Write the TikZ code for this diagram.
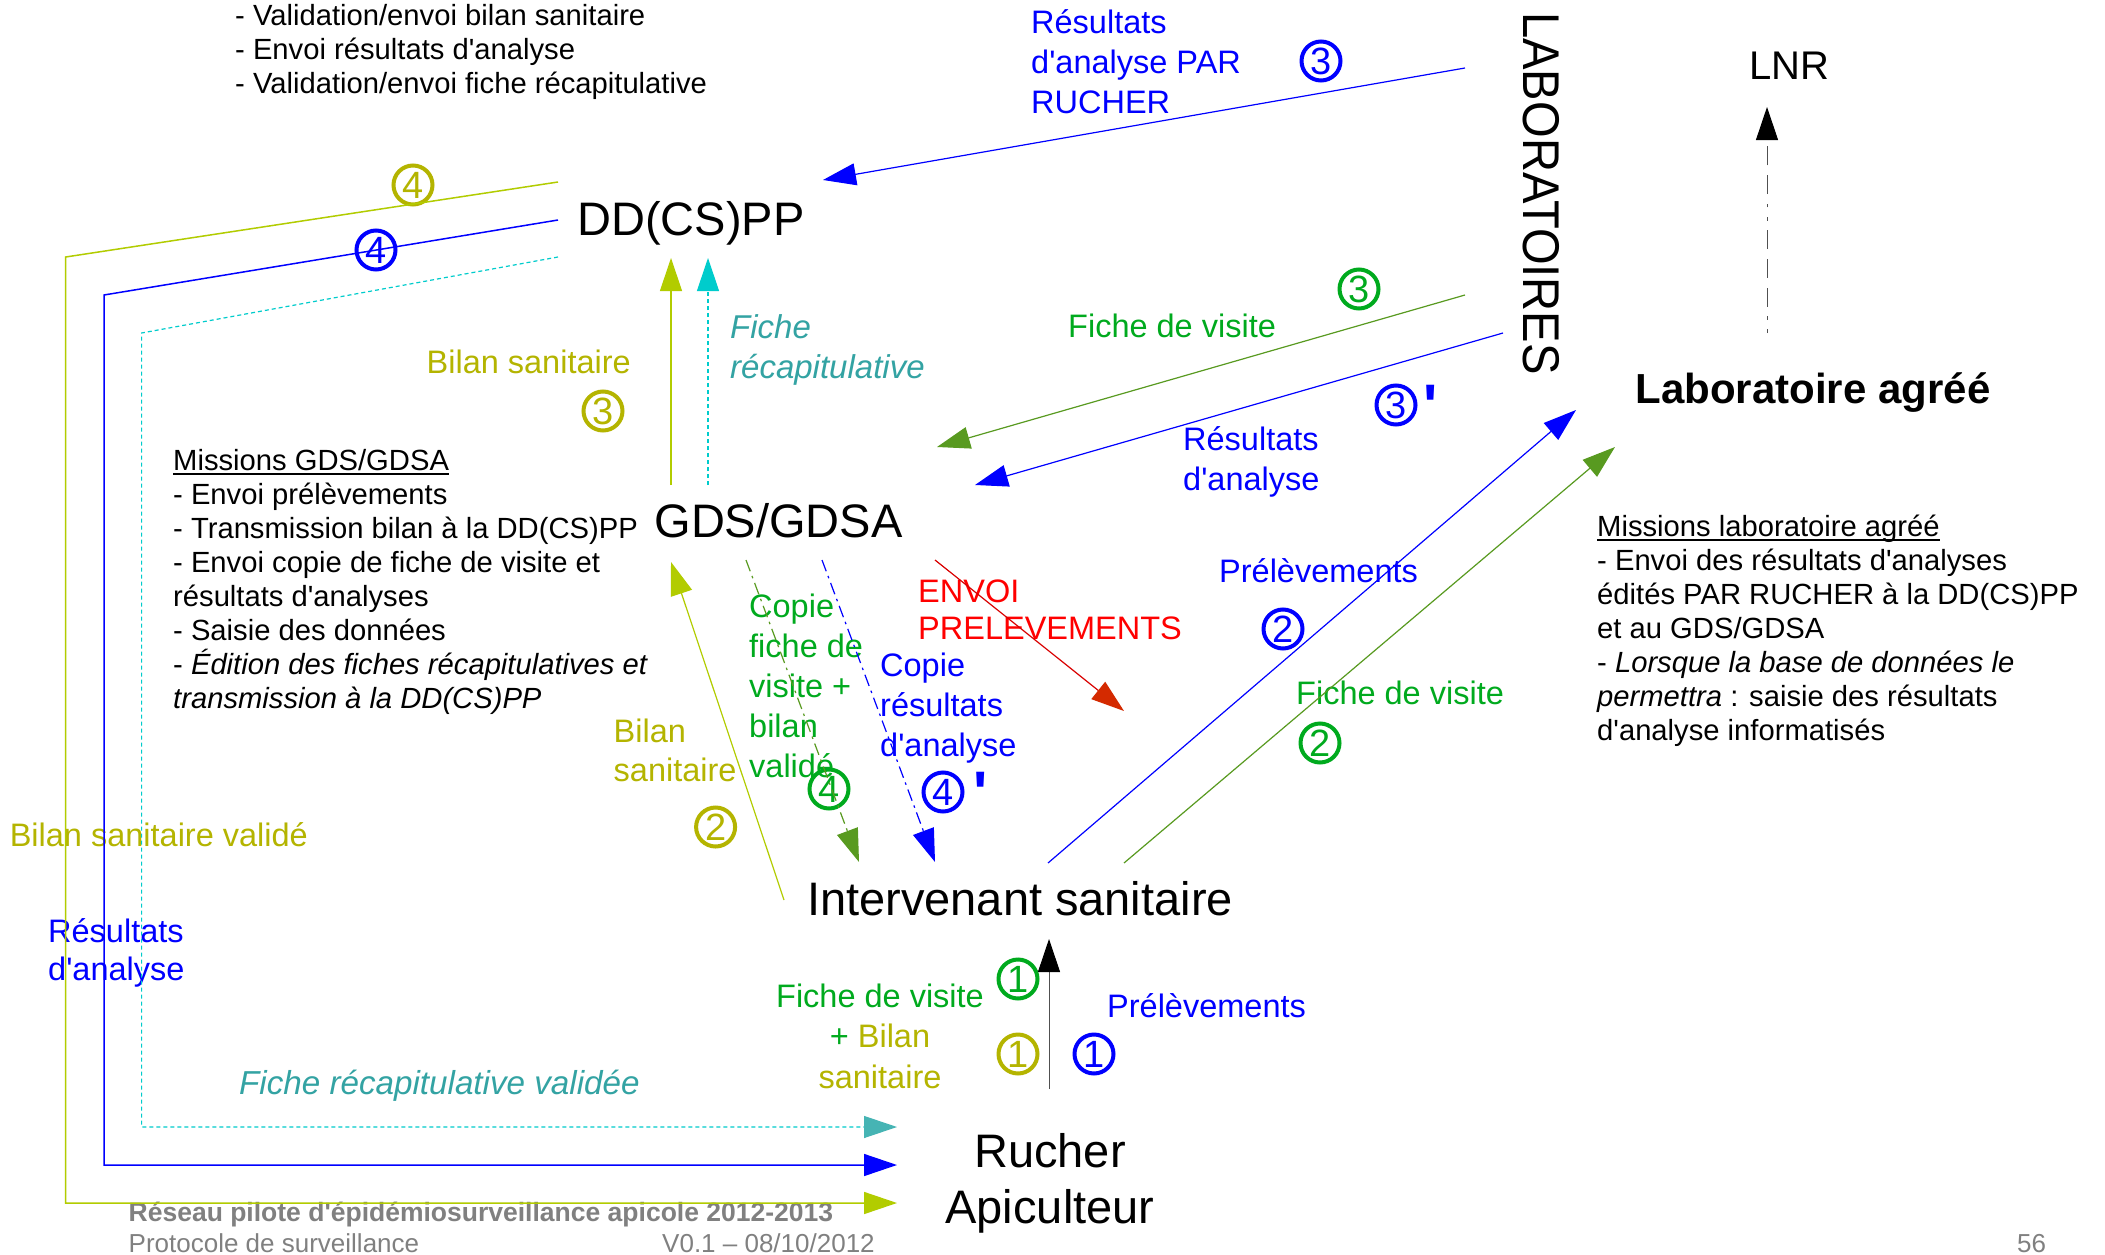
\documentclass[tikz,border=0pt]{standalone}
\usepackage{fontspec}
\usepackage{graphicx}
\setmainfont{Liberation Sans}[Ligatures=TeXOff]
\usetikzlibrary{arrows.meta}
\definecolor{cblue}{RGB}{0,0,255}
\definecolor{cgreen}{RGB}{0,170,30}
\definecolor{dgreen}{RGB}{88,154,32}
\definecolor{colive}{RGB}{180,180,0}
\definecolor{ygreen}{RGB}{178,204,0}
\definecolor{cteal}{RGB}{51,163,163}
\definecolor{ccyan}{RGB}{0,204,204}
\definecolor{cteal2}{RGB}{70,180,180}
\definecolor{cred}{RGB}{255,0,0}
\definecolor{dred}{RGB}{212,42,0}
\definecolor{cgray}{RGB}{128,128,128}
\definecolor{lgray}{RGB}{80,80,80}
\newcommand\lnsL[1]{\vtop{\lineskiplimit=-\maxdimen\let\\\cr\halign{##\hfil\cr#1\crcr}}}
\newcommand\lnsC[1]{\vtop{\lineskiplimit=-\maxdimen\let\\\cr\halign{\hfil##\hfil\cr#1\crcr}}}
\newcommand\myul[1]{\setbox0=\hbox{#1}\rlap{\rule[-5pt]{\wd0}{1.8pt}}\box0}
\tikzset{
  big/.style={inner sep=0pt, font=\fontsize{47}{56}\selectfont},
  lbl/.style={inner sep=0pt, font=\fontsize{32.5}{40}\selectfont},
  txt/.style={inner sep=0pt, font=\fontsize{29.2}{34}\selectfont},
  foot/.style={inner sep=0pt, text=cgray, font=\fontsize{26}{31}\selectfont},
  circ/.style={circle, draw=#1, text=#1, line width=4pt, minimum size=39pt, inner sep=0pt, font=\fontsize{38}{38}\selectfont},
  prime/.style={inner sep=0pt, text=#1, anchor=north, font=\bfseries\fontsize{60}{60}\selectfont},
  conn/.style={line width=1.2pt, -{Triangle[length=33pt,width=22pt,#1]}},
  conn/.default={},
  dashdot/.style={dash pattern=on 12pt off 5pt on 2.5pt off 5pt},
  shortdash/.style={dash pattern=on 4pt off 3pt},
  lnrdash/.style={dash pattern=on 3.7pt off 9.5pt on 3.7pt off 9.5pt on 19pt off 9.7pt on 19pt off 9.7pt on 19pt off 9.7pt},
}
\begin{document}
\begin{tikzpicture}[x=1pt,y=-1pt]
\useasboundingbox (0,0) rectangle (2105,1255);
\fill[white] (0,0) rectangle (2105,1255);

% ---------- main nodes
\node[big, anchor=base] (dd) at (691,235) {DD(CS)PP};
\node[big, anchor=base] (gds) at (778.5,537) {GDS/GDSA};
\node[big, anchor=base] (int) at (1020,915) {Intervenant sanitaire};
\node[big, anchor=base] (ruch) at (1050,1167) {\lnsC{Rucher\\Apiculteur}};
\node[inner sep=0pt, anchor=base, font=\fontsize{40}{40}\selectfont] (lnr) at (1789,80) {LNR};
\node[inner sep=0pt, anchor=base, font=\bfseries\fontsize{42}{42}\selectfont] (labo) at (1813,403) {Laboratoire agréé};
\node[inner sep=0pt, rotate=-90, font=\fontsize{41}{41}\selectfont] (labs) at (1541.5,193.5) {\scalebox{1.15}[1.26]{LABORATOIRES}};

% ---------- text blocks
\node[txt, anchor=base west] (top) at (235,26) {\lnsL{- Validation/envoi bilan sanitaire\\- Envoi résultats d'analyse\\- Validation/envoi fiche récapitulative}};
\node[txt, anchor=base west] (mgds) at (173,470) {\lnsL{\myul{Missions GDS/GDSA}\\- Envoi prélèvements\\- Transmission bilan à la DD(CS)PP\\- Envoi copie de fiche de visite et\\résultats d'analyses\\- Saisie des données\\- \textit{Édition des fiches récapitulatives et}\\\textit{transmission à la DD(CS)PP}}};
\node[txt, anchor=base west] (mlab) at (1597,536) {\lnsL{\myul{Missions laboratoire agréé}\\- Envoi des résultats d'analyses\\édités PAR RUCHER à la DD(CS)PP\\et au GDS/GDSA\\- \textit{Lorsque la base de données le}\\\textit{permettra} : saisie des résultats\\d'analyse informatisés}};

% ---------- labels
\node[lbl, text=cblue, anchor=base west] (l1) at (1031,34) {\lnsL{Résultats\\d'analyse PAR\\RUCHER}};
\node[circ=cblue] (c3a) at (1321,61) {3};
\node[lbl, text=cgreen, anchor=base west] (l2) at (1068,337) {Fiche de visite};
\node[circ=cgreen] (c3b) at (1359,289) {3};
\node[lbl, text=cblue, anchor=base west] (l3) at (1183,450) {\lnsL{Résultats\\d'analyse}};
\node[circ=cblue] (c3c) at (1396,405) {3};
\node[prime=cblue] (p3c) at (1431,385) {'};
\node[lbl, text=cblue, anchor=base west] (l4) at (1219,582) {Prélèvements};
\node[circ=cblue] (c2a) at (1283,629) {2};
\node[lbl, text=cgreen, anchor=base west] (l5) at (1296,704) {Fiche de visite};
\node[circ=cgreen] (c2b) at (1320,743) {2};
\node[lbl, text=cred, anchor=base west, font=\fontsize{32.5}{37.5}\selectfont] (l6) at (918,602) {\lnsL{ENVOI\\PRELEVEMENTS}};
\node[lbl, text=cblue, anchor=base west] (l7) at (880,676) {\lnsL{Copie\\résultats\\d'analyse}};
\node[circ=cblue] (c4a) at (943,792) {4};
\node[prime=cblue] (p4a) at (981,772) {'};
\node[lbl, text=cgreen, anchor=base west] (l8) at (749,617) {\lnsL{Copie\\fiche de\\visite +\\bilan\\validé}};
\node[circ=cgreen] (c4b) at (829,789) {4};
\node[lbl, text=colive, anchor=base west, font=\fontsize{32.5}{39}\selectfont] (l9) at (613.5,742) {\lnsL{Bilan\\sanitaire}};
\node[circ=colive] (c2c) at (715.6,827) {2};
\node[lbl, text=colive, anchor=base east] (l10) at (631,373) {Bilan sanitaire};
\node[circ=colive] (c3d) at (603,411) {3};
\node[lbl, text=cteal, anchor=base west, font=\itshape\fontsize{33}{40}\selectfont] (l11) at (730,338) {\lnsL{Fiche\\récapitulative}};
\node[circ=colive] (c4c) at (413,185) {4};
\node[circ=cblue] (c4d) at (376,250) {4};
\node[lbl, text=colive, anchor=base west] (l12) at (9.6,846) {Bilan sanitaire validé};
\node[lbl, text=cblue, anchor=base west, font=\fontsize{32.5}{38}\selectfont] (l13) at (48,942) {\lnsL{Résultats\\d'analyse}};
\node[lbl, text=cteal, anchor=base west, font=\itshape\fontsize{33.2}{40}\selectfont] (l14) at (239,1094) {Fiche récapitulative validée};
\node[lbl, anchor=base, font=\fontsize{32.5}{40.5}\selectfont] (l15) at (880,1007) {\lnsC{\textcolor{cgreen}{Fiche de visite}\\\textcolor{cgreen}{+} \textcolor{colive}{Bilan}\\\textcolor{colive}{sanitaire}}};
\node[circ=cgreen] (c1a) at (1018,979) {1};
\node[circ=colive] (c1b) at (1018,1054) {1};
\node[circ=cblue] (c1c) at (1094,1054) {1};
\node[lbl, text=cblue, anchor=base west] (l16) at (1107,1017) {Prélèvements};

% ---------- footer
\node[inner sep=0pt, text=cgray, anchor=base west, font=\bfseries\fontsize{26.5}{31}\selectfont] (f1) at (128.5,1221) {Réseau pilote d'épidémiosurveillance apicole 2012-2013};
\node[foot, anchor=base west] (f2) at (128.5,1252) {Protocole de surveillance};
\node[foot, anchor=base west] (f3) at (662,1252) {V0.1 – 08/10/2012};
\node[foot, anchor=base west] (f4) at (2017,1252) {56};

% ---------- connector end points
\coordinate (a1s) at (671,485);  \coordinate (a1e) at (671,258);
\coordinate (a2s) at (708,485);  \coordinate (a2e) at (708,258);
\coordinate (a3s) at (1465,68);  \coordinate (a3e) at (823,180);
\coordinate (a4s) at (1465,295); \coordinate (a4e) at (937,447);
\coordinate (a5s) at (1503,333); \coordinate (a5e) at (975,485);
\coordinate (a6s) at (1048,863); \coordinate (a6e) at (1576,410);
\coordinate (a7s) at (1124,863); \coordinate (a7e) at (1615,447);
\coordinate (a8s) at (1767,333); \coordinate (a8e) at (1767,107);
\coordinate (a9s) at (784,900);  \coordinate (a9e) at (671,562);
\coordinate (b1s) at (746,560);  \coordinate (b1e) at (859,862);
\coordinate (b2s) at (822,560);  \coordinate (b2e) at (935,862);
\coordinate (b3s) at (935,560);  \coordinate (b3e) at (1124,711);
\coordinate (b4s) at (1049,1089); \coordinate (b4e) at (1049,939);
\coordinate (y1) at (558,182); \coordinate (y2) at (65.7,257); \coordinate (y3) at (65.7,1203); \coordinate (y4) at (897,1203);
\coordinate (u1) at (558,220); \coordinate (u2) at (104,295); \coordinate (u3) at (104,1165); \coordinate (u4) at (897,1165);
\coordinate (t1) at (558,257); \coordinate (t2) at (141.6,333); \coordinate (t3) at (141.6,1127); \coordinate (t4) at (897,1127);

% ---------- connectors
\draw[conn, ygreen] (a1s) -- (a1e);
\draw[conn, ccyan, shortdash] (a2s) -- (a2e);
\draw[conn, cblue] (a3s) -- (a3e);
\draw[conn, dgreen] (a4s) -- (a4e);
\draw[conn, cblue] (a5s) -- (a5e);
\draw[conn, cblue] (a6s) -- (a6e);
\draw[conn, dgreen] (a7s) -- (a7e);
\draw[conn={color=black}, lgray, line width=1pt, lnrdash] (a8s) -- (a8e);
\draw[conn, ygreen] (a9s) -- (a9e);
\draw[conn, dgreen, dashdot] (b1s) -- (b1e);
\draw[conn, cblue, dashdot] (b2s) -- (b2e);
\draw[conn={color=dred}, cred!85!black] (b3s) -- (b3e);
\draw[conn={color=black}, lgray, line width=1pt] (b4s) -- (b4e);
\draw[conn, ygreen, line width=1.5pt] (y1) -- (y2) -- (y3) -- (y4);
\draw[conn, cblue, line width=1.5pt] (u1) -- (u2) -- (u3) -- (u4);
\draw[conn={color=cteal2}, ccyan, line width=1.2pt, shortdash] (t1) -- (t2) -- (t3) -- (t4);
\end{tikzpicture}
\end{document}
